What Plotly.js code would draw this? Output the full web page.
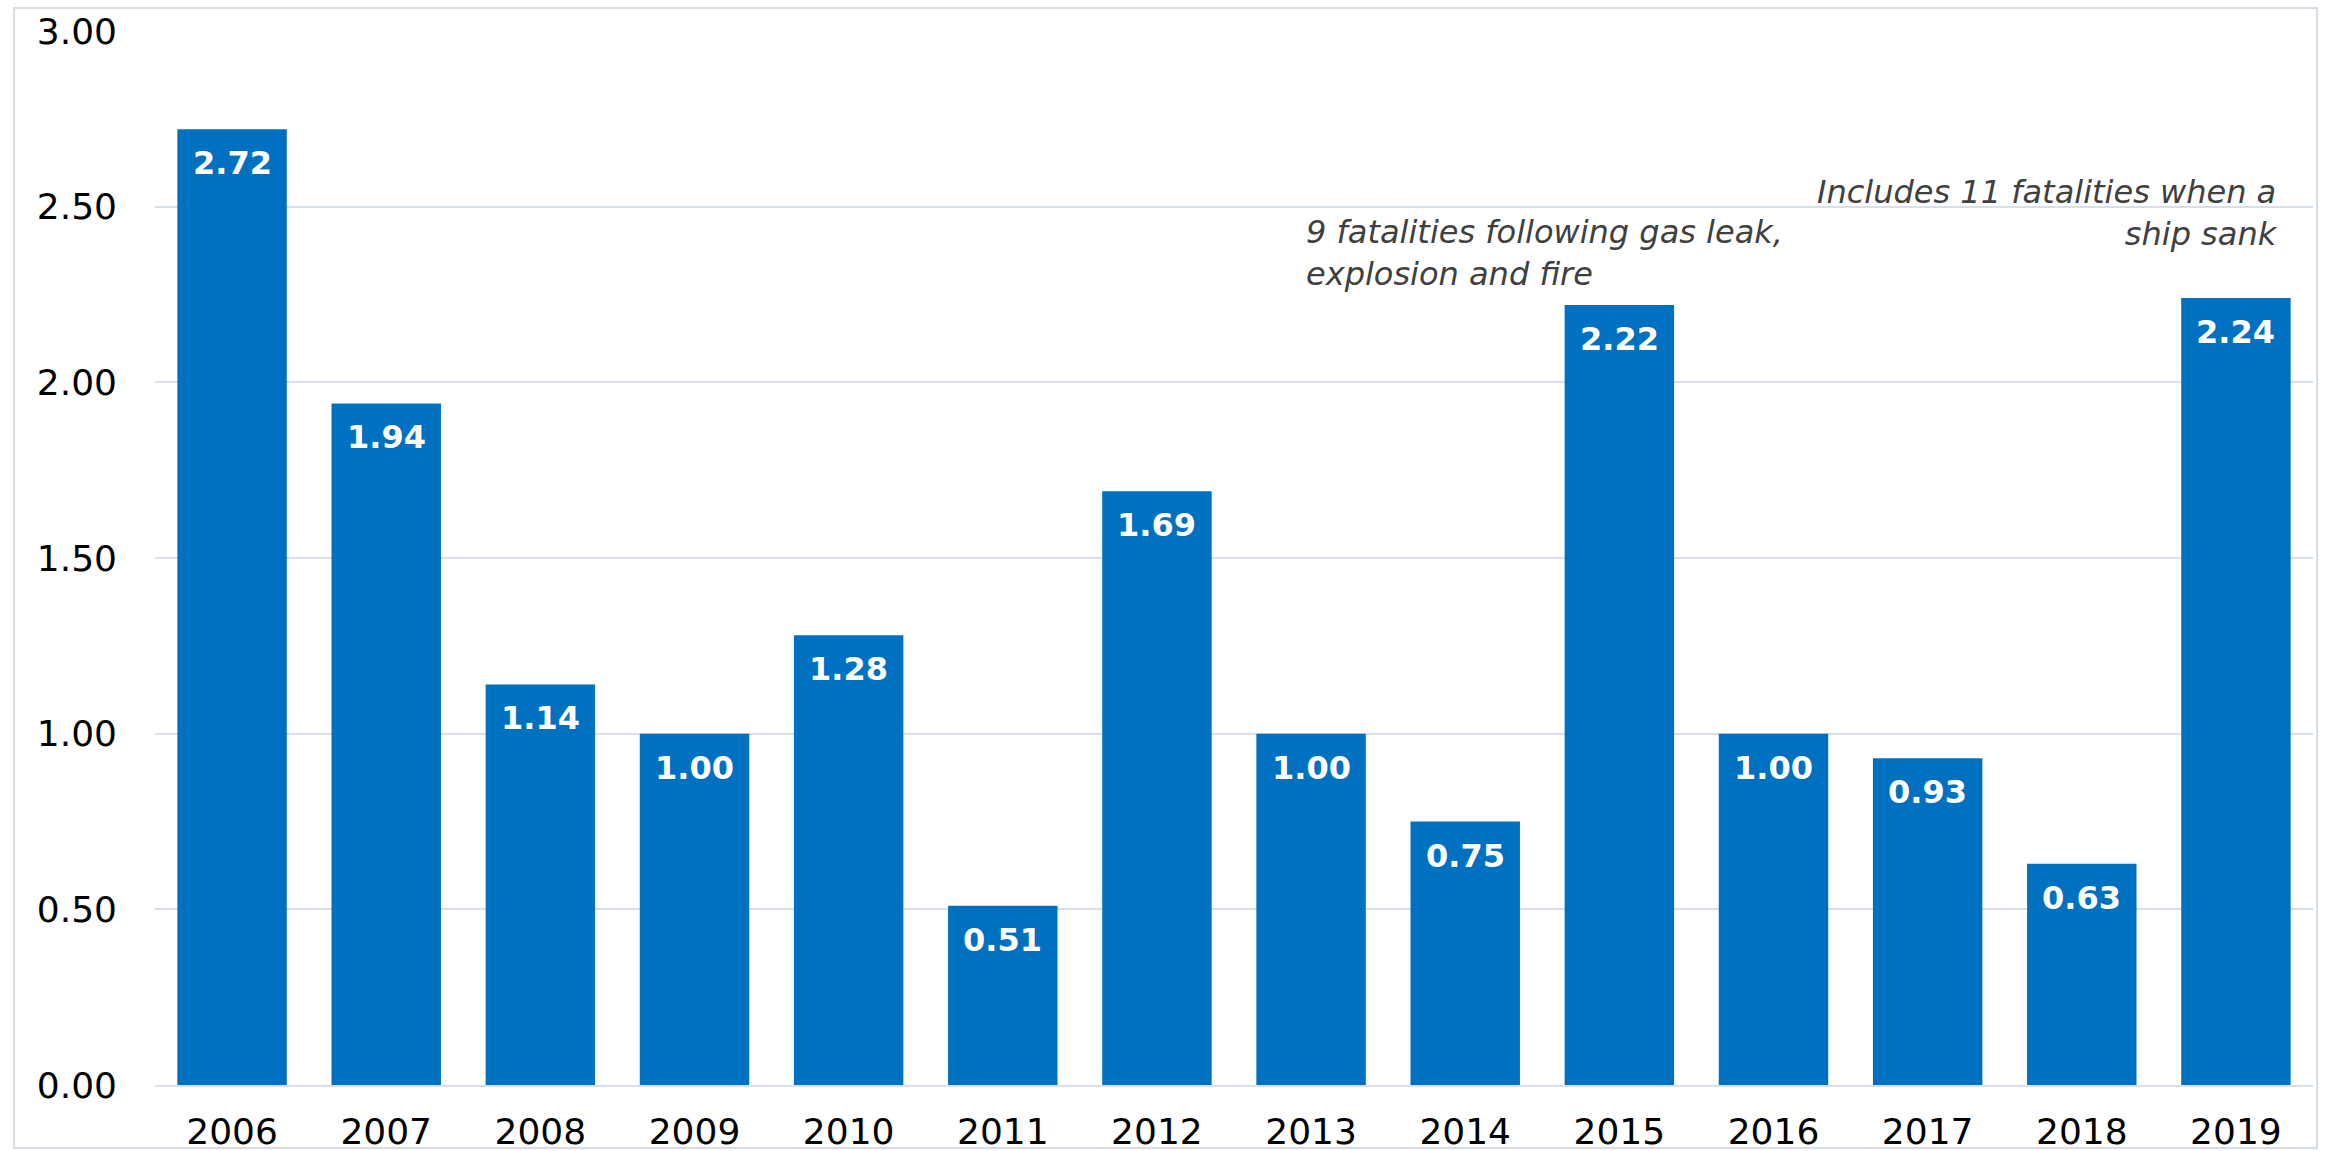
<!DOCTYPE html>
<html>
<head>
<meta charset="utf-8">
<script src="https://cdn.plot.ly/plotly-3.0.1.min.js"></script>
<style>html,body{margin:0;padding:0;background:#fff;}</style>
</head>
<body>
<div id="chart" style="width:2333px;height:1151px;"></div>
<script>
const years = ["2006","2007","2008","2009","2010","2011","2012","2013","2014","2015","2016","2017","2018","2019"];
const values = [2.72, 1.94, 1.14, 1.00, 1.28, 0.51, 1.69, 1.00, 0.75, 2.22, 1.00, 0.93, 0.63, 2.24];
const yTicks = [0, 0.5, 1, 1.5, 2, 2.5, 3];
const yTickLabels = ["0.00","0.50","1.00","1.50","2.00","2.50","3.00"];
const noteYears = ["2015", "2019"];
const noteTexts = ["9 fatalities following gas leak,<br>explosion and fire", "Includes 11 fatalities when a<br>ship sank"];

const FONT = "DejaVu Sans, Verdana, sans-serif";

const labelAnns = years.map((y, i) => ({
  x: i, y: values[i], xref: "x", yref: "y",
  text: "<b>" + values[i].toFixed(2) + "</b>",
  showarrow: false, yanchor: "top", yshift: -13,
  font: {family: FONT, size: 32, color: "#ffffff"}
}));

const i1 = years.indexOf(noteYears[0]);
const i2 = years.indexOf(noteYears[1]);
const noteAnns = [
  {x: i1, y: values[i1], xref: "x", yref: "y", text: noteTexts[0],
   showarrow: false, xanchor: "left", yanchor: "bottom", align: "left",
   xshift: -315, yshift: 10,
   font: {family: FONT, size: 32, color: "#404040", style: "italic"}},
  {x: i2, y: values[i2], xref: "x", yref: "y", text: noteTexts[1],
   showarrow: false, xanchor: "right", yanchor: "bottom", align: "right",
   xshift: 44, yshift: 43,
   font: {family: FONT, size: 32, color: "#404040", style: "italic"}}
];

const trace = {
  type: "bar", x: years, y: values,
  marker: {color: "#0070c0"},
  hoverinfo: "none"
};

const layout = {
  width: 2333, height: 1151,
  margin: {l: 155, r: 20, t: 31, b: 66},
  paper_bgcolor: "#ffffff", plot_bgcolor: "#ffffff",
  bargap: 0.29,
  showlegend: false,
  font: {family: FONT, color: "#000000"},
  xaxis: {
    type: "category", range: [-0.5, years.length - 0.5],
    tickfont: {family: FONT, size: 36, color: "#000"},
    showgrid: false, zeroline: false, showline: true, linecolor: "#d9dfe8", linewidth: 2,
    ticks: "", ticklabelstandoff: 14
  },
  yaxis: {
    range: [0, 3], tickvals: yTicks, ticktext: yTickLabels,
    tickfont: {family: FONT, size: 36, color: "#000"},
    showgrid: true, gridcolor: "#d9dfe8", gridwidth: 2, zeroline: false,
    ticks: "", ticklabelstandoff: 37
  },
  annotations: labelAnns.concat(noteAnns),
  shapes: [{
    type: "rect", xref: "paper", yref: "paper",
    x0: -0.0653, x1: 1.0019, y0: -0.0598, y1: 1.0218,
    line: {color: "#d6dce5", width: 2}, fillcolor: "rgba(0,0,0,0)", layer: "above"
  }]
};

Plotly.newPlot("chart", [trace], layout, {displayModeBar: false, staticPlot: true});
</script>
</body>
</html>
